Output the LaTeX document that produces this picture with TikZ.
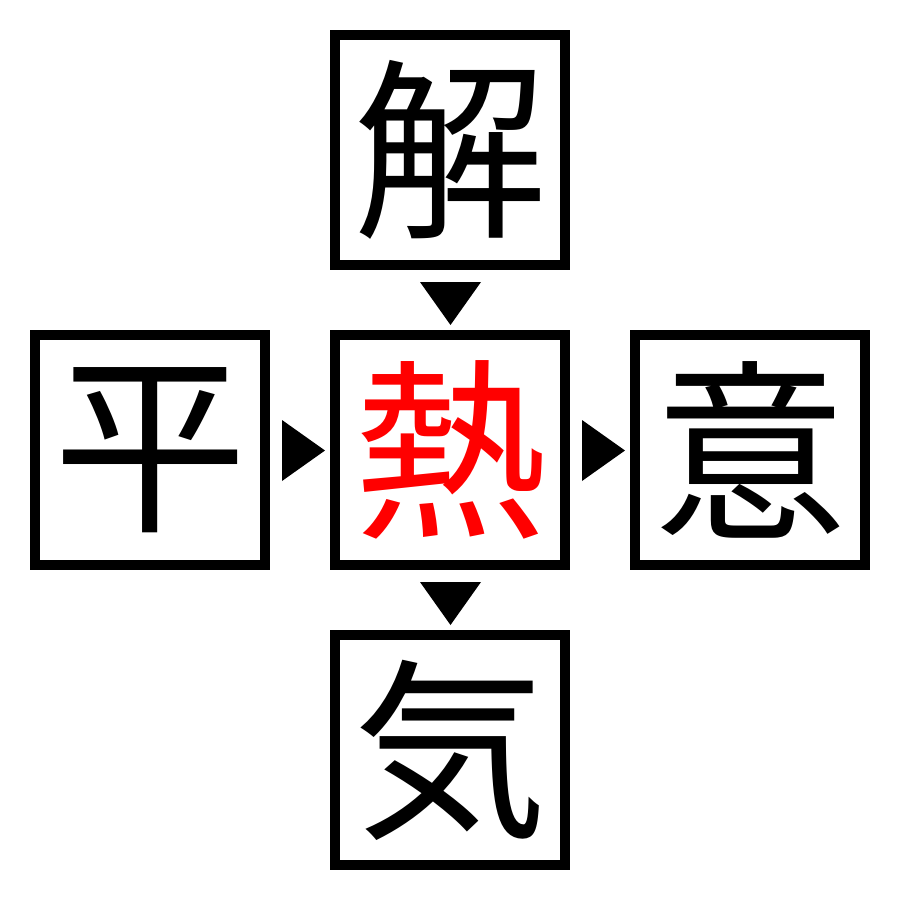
\documentclass[tikz,border=0pt]{standalone}
\usepackage{fontspec}
\newfontfamily\cjk{Noto Sans CJK JP}
\begin{document}
\begin{tikzpicture}[x=1pt,y=-1pt,
  kbox/.style={draw=black,line width=10pt,minimum size=230pt,inner sep=0pt,anchor=center,font=\cjk\fontsize{194}{194}\selectfont},
  tri/.style={fill=black,draw=none}]
\useasboundingbox (0,0) rectangle (900,900);
\node[kbox] (top) at (450,150) {解};
\node[kbox] (left) at (150,450) {平};
\node[kbox,text=red] (mid) at (450,450) {熱};
\node[kbox] (right) at (750,450) {意};
\node[kbox] (bot) at (450,750) {気};
\fill[tri] (420,282) -- (481,282) -- (450.5,325) -- cycle;
\fill[tri] (420,582) -- (481,582) -- (450.5,625) -- cycle;
\fill[tri] (282,420) -- (282,481) -- (325,450.5) -- cycle;
\fill[tri] (582,420) -- (582,481) -- (625,450.5) -- cycle;
\end{tikzpicture}
\end{document}
